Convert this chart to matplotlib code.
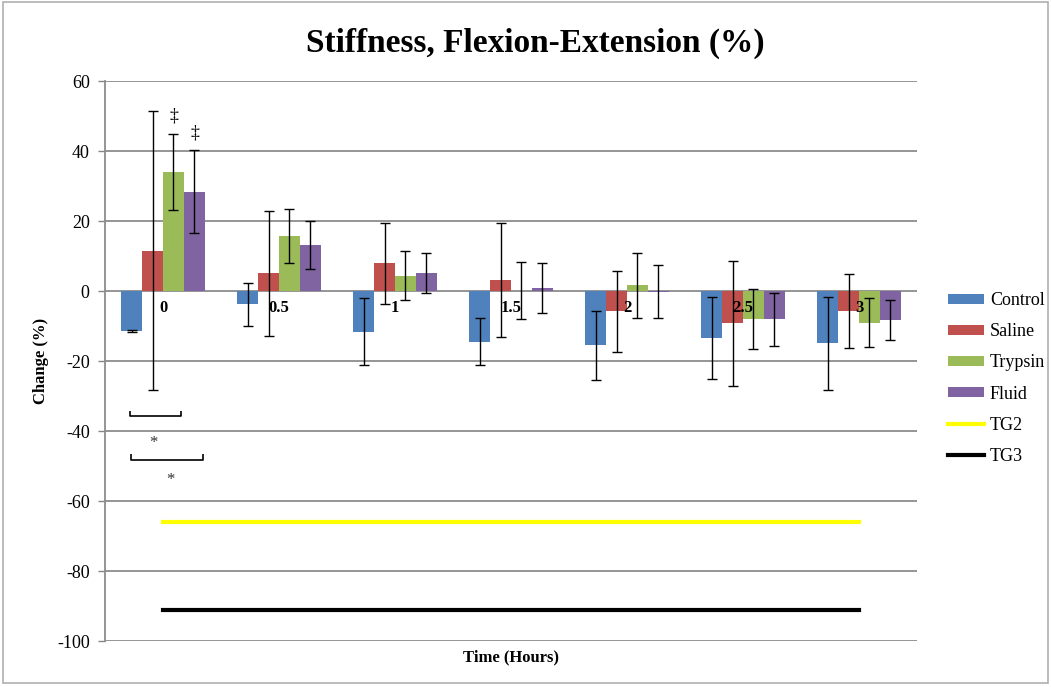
import matplotlib
matplotlib.use("Agg")
import matplotlib.pyplot as plt
import numpy as np
from matplotlib.patches import Rectangle

plt.rcParams["font.family"] = ["Liberation Serif", "DejaVu Serif"]
plt.rcParams["axes.unicode_minus"] = False

# Time points (hours)
categories = ["0", "0.5", "1", "1.5", "2", "2.5", "3"]

# Mean change in stiffness (%) per group
control = [-11.3, -3.8, -11.6, -14.5, -15.5, -13.3, -14.9]
saline = [11.5, 5.1, 7.9, 3.1, -5.8, -9.2, -5.7]
trypsin = [34.0, 15.8, 4.4, 0.1, 1.6, -7.9, -9.1]
fluid = [28.4, 13.2, 5.1, 0.9, -0.2, -8.1, -8.3]

# Error bar half-widths
control_err = [0.3, 6.2, 9.5, 6.7, 9.9, 11.7, 13.3]
saline_err = [39.8, 17.9, 11.6, 16.2, 11.6, 17.8, 10.5]
trypsin_err = [10.8, 7.7, 7.0, 8.2, 9.4, 8.6, 7.0]
fluid_err = [11.8, 6.9, 5.8, 7.1, 7.5, 7.6, 5.7]

# Reference levels
tg2 = [-66, -66, -66, -66, -66, -66, -66]
tg3 = [-91, -91, -91, -91, -91, -91, -91]

series = [
    ("Control", control, control_err, "#4F81BD"),
    ("Saline", saline, saline_err, "#C0504D"),
    ("Trypsin", trypsin, trypsin_err, "#9BBB59"),
    ("Fluid", fluid, fluid_err, "#8064A2"),
]

fig = plt.figure(figsize=(10.51, 6.87), dpi=100)
ax = fig.add_axes([105 / 1051, 1 - 641 / 687, (917 - 105) / 1051, (641 - 81) / 687])

x = np.arange(len(categories))
bw = 0.181
offsets = (np.arange(4) - 1.5) * bw

handles = []
for (name, vals, errs, col), off in zip(series, offsets):
    b = ax.bar(x + off, vals, width=bw, color=col, label=name, zorder=2)
    ax.errorbar(x + off, vals, yerr=errs, fmt="none", ecolor="black",
                elinewidth=1.0, capsize=3.8, capthick=1.0, zorder=3)
    handles.append(b)

l2, = ax.plot(x, tg2, color="#FFFF00", lw=3, label="TG2", zorder=2)
l3, = ax.plot(x, tg3, color="black", lw=3, label="TG3", zorder=2)
handles += [l2, l3]

ax.set_xlim(-0.5, len(categories) - 0.5)
ax.set_ylim(-100, 60)
ax.set_yticks(np.arange(-100, 61, 20))
ax.tick_params(axis="y", labelsize=13, length=5, color="#868686", width=1, pad=6)
ax.set_xticks([])
ax.yaxis.grid(True, color="#8C8C8C", lw=1.3, zorder=0)
ax.set_axisbelow(True)
for s in ["top", "right", "bottom"]:
    ax.spines[s].set_visible(False)
ax.spines["left"].set_color("#8C8C8C")
ax.spines["left"].set_linewidth(1.3)

# Category labels sitting along the zero line
for xi, lab in zip(x, categories):
    ax.text(xi, -5, lab, ha="center", va="center", fontsize=12,
            fontweight="bold", zorder=4)

# Significance markers
ax.text(offsets[2], 44.9 + 5, "‡", ha="center", va="center", fontsize=13, zorder=4)
ax.text(offsets[3], 40.2 + 5, "‡", ha="center", va="center", fontsize=13, zorder=4)

def bracket(x0, x1, y, h):
    ax.plot([x0, x0, x1, x1], [y + h, y, y, y + h], color="black", lw=1.2,
            zorder=4, solid_capstyle="butt")

bracket(-0.284, 0.155, -35.8, 1.6)
bracket(-0.276, 0.342, -48.3, 1.7)
ax.text(-0.084, -43.3, "*", ha="center", va="center", fontsize=12, color="#333333")
ax.text(0.06, -54.0, "*", ha="center", va="center", fontsize=12, color="#333333")

ax.set_ylabel("Change (%)", fontsize=12, fontweight="bold", labelpad=6)
ax.set_xlabel("Time (Hours)", fontsize=12, fontweight="bold", labelpad=6)
fig.text(535 / 1051, 1 - 43 / 687, "Stiffness, Flexion-Extension (%)",
         ha="center", va="center", fontsize=24, fontweight="bold")

leg = fig.legend(handles=handles, labels=[h.get_label() for h in handles],
                 loc="upper left", bbox_to_anchor=(932 / 1051, 1 - 276 / 687),
                 frameon=False, fontsize=13, handlelength=2.0, handleheight=0.5,
                 labelspacing=0.78, handletextpad=0.3)

# Chart area border
fig.add_artist(Rectangle((3 / 1051, 4 / 687), 1045 / 1051, 681 / 687,
                         transform=fig.transFigure, fill=False,
                         edgecolor="#B0B0B0", lw=1.2))

fig.savefig("out.png", dpi=100)
